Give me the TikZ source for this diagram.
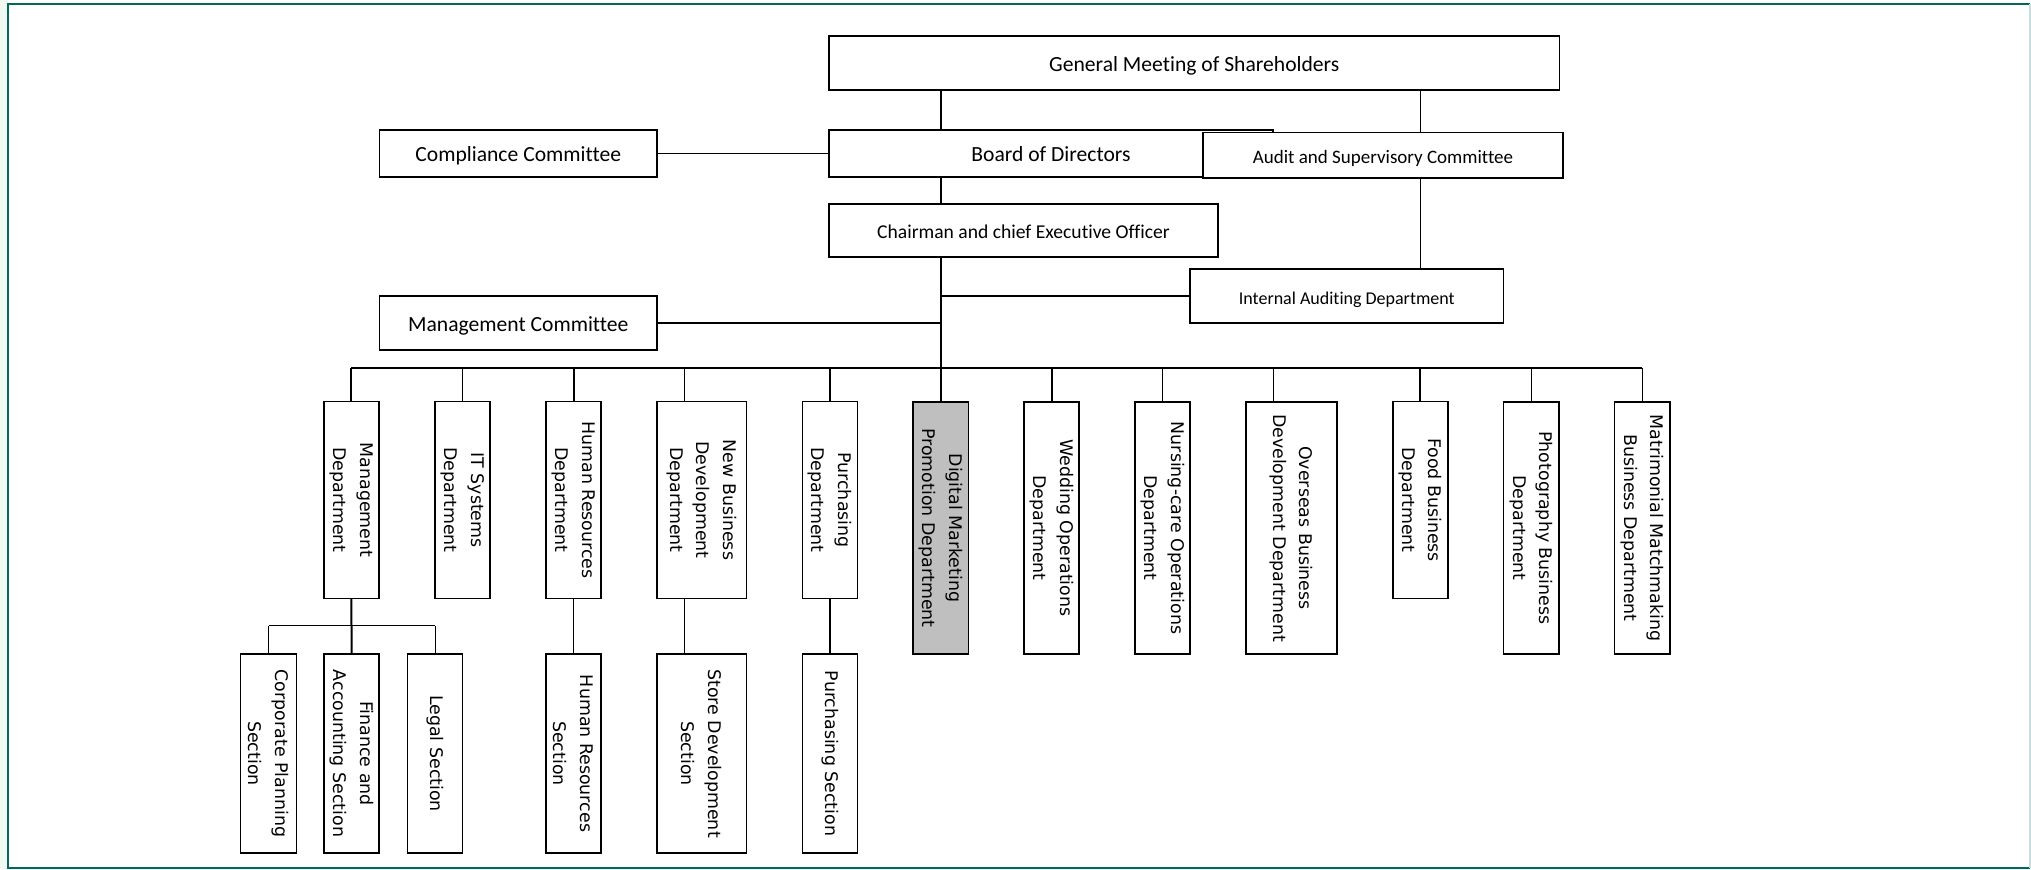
\documentclass[tikz,border=0pt]{standalone}
\usepackage{fontspec}
\setmainfont{Carlito}[Ligatures=NoCommon]
\newfontfamily\deptfont{DejaVu Sans}[Ligatures=NoCommon]
\usepackage{tikz}
\usetikzlibrary{positioning}
\definecolor{frameteal}{RGB}{0,105,92}
\definecolor{frameright}{RGB}{200,220,224}
\definecolor{leftpad}{RGB}{240,250,242}
\definecolor{digitalgray}{RGB}{191,191,191}

\begin{document}
\begin{tikzpicture}
  [
    x=0.5pt, y=-0.5pt,
    Top/.style={rectangle, draw=black, fill=white, line width=0.75pt, inner sep=0pt, text height=8.2pt, text depth=0pt, font=\fontsize{10.8}{13}\selectfont},
    Dept/.style={rectangle, draw=black, fill=white, line width=0.75pt, inner sep=0pt, rotate=-90, align=center, minimum height=27.6pt, font=\deptfont\fontsize{8.7}{13.3}\selectfont},
    Short/.style={Dept, minimum width=98.3pt},
    Long/.style={Dept, minimum width=126.2pt},
    Sect/.style={Dept, minimum width=99.5pt},
    Thick/.style={draw, line width=1pt},
    Thin/.style={draw, line width=0.5pt}
  ]
  \useasboundingbox (0,0) rectangle (2031,869);
  % Frame
  \fill[leftpad] (0,0) rectangle (8,869);
  \draw[frameteal, line width=1pt] (2030,4) -- (8,4) -- (8,868) -- (2030,868);
  \draw[frameright, line width=1pt] (2030,4) -- (2030,868);
  % Nodes
  \node[Top, minimum width=365.25pt, minimum height=27pt] (gms) at (1194.25,63) {General Meeting of Shareholders};
  \node[Top, minimum width=222pt, minimum height=23.5pt] (board) at (1051,153.5) {Board of Directors};
  \node[Top, minimum width=180pt, minimum height=22.65pt, font=\fontsize{9.5}{11}\selectfont] (audit) at (1383,155.3) {Audit and Supervisory Committee};
  \node[Top, minimum width=138.75pt, minimum height=23.5pt] (comp) at (518.25,153.5) {Compliance Committee};
  \node[Top, minimum width=194.5pt, minimum height=26.5pt, font=\fontsize{9.8}{11}\selectfont] (ceo) at (1023.5,230.5) {Chairman and chief Executive Officer};
  \node[Top, minimum width=156.8pt, minimum height=27pt, font=\fontsize{9}{11}\selectfont] (iad) at (1346.8,296) {Internal Auditing Department};
  \node[Top, minimum width=138.75pt, minimum height=27pt] (mgmtc) at (518.25,323) {Management Committee};

  \node[Short] (mgd) at (351.4,500) {Management\\Department};
  \node[Short] (itd) at (462.5,500) {IT Systems\\Department};
  \node[Short] (hrd) at (573.5,500) {Human Resources\\Department};
  \node[Short, minimum height=44.75pt] (nbd) at (701.75,500) {New Business\\Development\\Department};
  \node[Short] (pud) at (829.9,500) {Purchasing\\Department};
  \node[Long, fill=digitalgray] (dmd) at (940.7,528) {Digital Marketing\\Promotion Department};
  \node[Long] (wod) at (1051.5,528) {Wedding Operations\\Department};
  \node[Long] (ncd) at (1162.5,528) {Nursing-care Operations\\Department};
  \node[Long, minimum height=45.6pt] (obd) at (1291.4,528) {Overseas Business\\Development Department};
  \node[Short] (fbd) at (1420.4,500) {Food Business\\Department};
  \node[Long] (pbd) at (1531.2,528) {Photography Business\\Department};
  \node[Long] (mmd) at (1642.3,528) {Matrimonial Matchmaking\\Business Department};

  \node[Sect, minimum height=28pt] (cps) at (268.7,753.5) {Corporate Planning\\Section};
  \node[Sect] (fas) at (351.6,753.5) {Finance and\\Accounting Section};
  \node[Sect] (les) at (435,753.5) {Legal Section};
  \node[Sect] (hrs) at (573.5,753.5) {Human Resources\\Section};
  \node[Sect, minimum height=44.75pt] (sds) at (701.75,753.5) {Store Development\\Section};
  \node[Sect] (pus) at (829.9,753.5) {Purchasing Section};

  % Taps
  \coordinate (spine) at (940.7,0);
  \coordinate (audtap) at (1420,0);
  \coordinate (busw) at (351.4,368.3);
  \coordinate (buse) at (1642.3,368.3);
  \coordinate (nbdtap) at (684,368.3);
  \coordinate (obdtap) at (1273,368.3);
  \coordinate (subw) at (268.7,625.7);
  \coordinate (sube) at (435,625.7);
  \coordinate (sdstap) at (684,0);

  % Lines
  \path [Thick] (gms.south -| spine) -- (board.north -| spine);
  \path [Thick] (board.south -| spine) -- (ceo.north -| spine);
  \path [Thick] (ceo.south -| spine) -- (dmd.west);
  \path [Thin] (comp.east) -- (board.west);
  \path [Thin] (gms.south -| audtap) -- (audit.north -| audtap);
  \path [Thin] (audit.south -| audtap) -- (iad.north -| audtap);
  \path [Thick] (iad.west -| spine) -- (iad.west);
  \path [Thick] (mgmtc.east) -- (mgmtc.east -| spine);
  \path [Thick] (busw) -- (buse);
  \path [Thick] (busw) -- (mgd.west);
  \path [Thin] (itd.west |- busw) -- (itd.west);
  \path [Thick] (hrd.west |- busw) -- (hrd.west);
  \path [Thin] (nbdtap) -- (nbdtap |- nbd.west);
  \path [Thick] (pud.west |- busw) -- (pud.west);
  \path [Thick] (wod.west |- busw) -- (wod.west);
  \path [Thin] (ncd.west |- busw) -- (ncd.west);
  \path [Thin] (obdtap) -- (obdtap |- obd.west);
  \path [Thick] (fbd.west |- busw) -- (fbd.west);
  \path [Thin] (pbd.west |- busw) -- (pbd.west);
  \path [Thin] (buse) -- (mmd.west);
  \path [Thick] (mgd.east) -- (fas.west);
  \path [Thin] (subw) -- (sube);
  \path [Thin] (subw) -- (cps.west);
  \path [Thin] (sube) -- (les.west);
  \path [Thin] (hrd.east) -- (hrs.west);
  \path [Thin] (nbd.east -| sdstap) -- (sds.west -| sdstap);
  \path [Thick] (pud.east) -- (pus.west);
\end{tikzpicture}
\end{document}
